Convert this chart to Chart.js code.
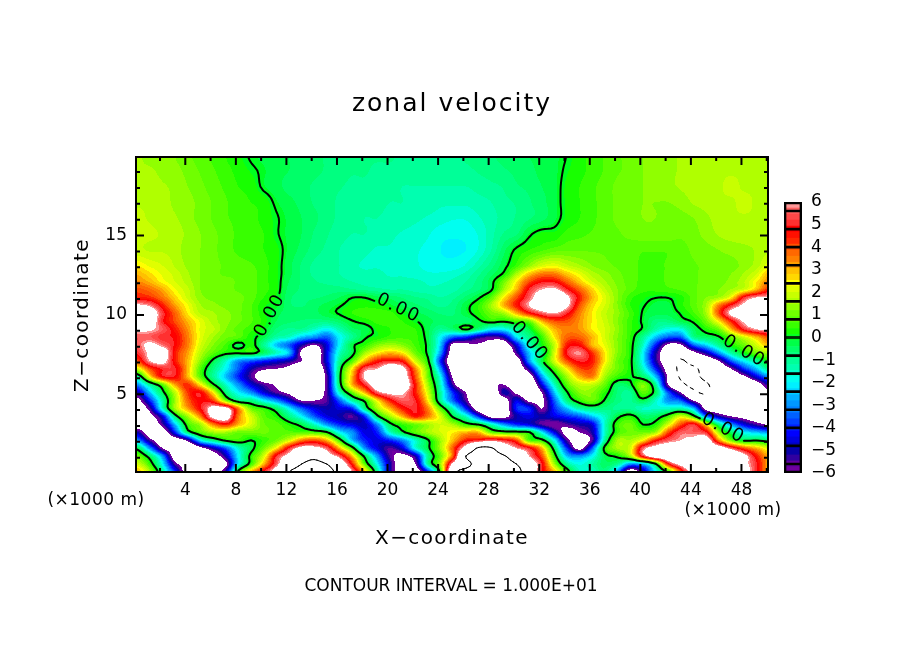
<!DOCTYPE html>
<html>
<head>
<meta charset="utf-8">
<title>zonal velocity</title>
<script src="https://cdn.jsdelivr.net/npm/chart.js@4"></script>
<style>
body { margin: 0; background: #fff; }
#plot { position: absolute; left: 0; top: 0; }
#bar { position: absolute; left: 770px; top: 190px; }
</style>
</head>
<body>
<canvas id="plot" width="904" height="654"></canvas>
<canvas id="bar" width="100" height="300"></canvas>
<script>
// grid columns and levels, in thousands of metres
const xCols = [.2,1.2,2.2,3.2,4.2,5.2,6.2,7.2,8.2,9.2,10.2,11.2,12.2,13.2,14.2,15.2,16.2,17.2,18.2,19.2,20.2,21.2,22.2,23.2,24.2,25.2,26.2,27.2,28.2,29.2,30.2,31.2,32.2,33.2,34.2,35.2,36.2,37.2,38.2,39.2,40.2,41.2,42.2,43.2,44.2,45.2,46.2,47.2,48.2,49.2,50.2];
const zLevels = [.1,.6,1.1,1.6,2.1,2.6,3.1,3.6,4.1,4.6,5.1,5.6,6.1,6.6,7.1,7.6,8.1,8.6,9.1,9.6,10.1,10.6,11.1,11.6,12.1,12.6,13.1,14.1,15.1,16.1,17.1,18.1,19.1,19.95];

// zonal velocity, one row per z level, bottom row first
const uRows = [
[3,1.5,-1,-4,-7,-8,-7,-5,.3,3, 5,7,10,11,11,11,9,6,3,-1, -5,-7,-7,-4,.5,9,11,11,11,11, 11,8,5,3,.5,-1.5,-1.5,-.8,-3,-7, -5,-2,.3,4,7,8,8,8,7,5, 3],
[2,.5,-2,-5.5,-7,-8,-8,-6.3,-2,.5, 3,5.5,8,10,11,10,7.5,4.5,.8,-2, -5,-7,-6,-1,1.5,6.5,9,11,11,11, 10,7.5,5,1.5,-1,-1.8,-1.2,-.5,-1,-3, -2.5,-.2,4.5,6.5,7.5,8,8,8,6.5,5, 3],
[1,-.5,-3,-7,-8,-8,-7,-5,-2,.3, 2,5,6.5,8,9,7,5.5,3,-.3,-3, -5.5,-6.5,-5,-1,1,4,10,11,11,10.3, 8,6,4,.5,-2.5,-3,-2,-.3,.2,1.5, 5,7,7.5,8,8,8,8,8,6.5,4.5, 3],
[-.3,-3,-6,-7,-8,-6.5,-5,-3.5,-1.5,-.3, 1,2.5,5,6.5,6.5,5.5,3,.5,-3,-4.5, -5.5,-4.5,-1.8,-.2,1.5,4,7,10.4,10.3,7.5, 6,5,3,-.5,-4,-6.5,-3.5,.3,1.5,2, 5.5,6.5,7,7,7.5,7.5,7,5.5,4,3, 2],
[-3,-5.5,-7,-7,-5.5,-2,-.8,.2,.5,0, .5,1,2,3.5,4,3,.5,-2.5,-4,-4.5, -4,-3,-1.5,-.1,1.5,3,4.5,5,5.5,5, 4,.8,.3,-2,-5.5,-7,-5.5,-1,1.5,1.5, 2.5,4.5,5.5,6,6.5,7,3.5,1,-.2,-.1, -.5],
[-5,-7,-7,-4,-.6,.8,1.5,1.5,1,1, 1,.8,.8,.7,.6,.1,-2,-3,-4.5,-4, -1.5,-.2,.8,1.5,2,2.5,3,3,1,.5, .4,.1,-2,-4.5,-6.5,-6,-5,-1.5,.5,1, 1,1.5,4,5.5,5.5,5,1.5,-.5,-2,-2.5, -3],
[-7,-7,-5.5,-2.5,.5,1.5,3.5,4.5,3,2, 1,.8,.3,-.3,-1.5,-3,-4,-4.5,-4.8,-3, -.3,.5,1,1.5,2,1.5,.4,-.1,-1.5,-3, -4,-4.5,-5.5,-6,-5.5,-5,-4.5,-1.5,.5,1, 0,.3,2,4,5,2.5,-.8,-3,-4.5,-5.5, -6.2],
[-7,-6.5,-4.5,-.5,1.5,3.5,6.5,7,3.5,2, .8,.3,-.8,-2,-3.5,-4.5,-5,-5.5,-4,-.3, 1.5,3,4.5,3.5,2,-.2,-1.5,-4,-6.5,-6.5, -5,-4.5,-5,-4.5,-4,-3.5,-2.5,-1.5,-.2,.3, -.5,-.4,.5,2,.5,-3,-5,-6,-6.5,-7, -7],
[-7,-5.5,-1.5,1.5,3.2,4.8,6.5,6.5,3.5,1, .4,-.5,-2,-3.5,-4.5,-5,-4.5,-4,-.8,1.5, 3,4.5,5,3.5,.8,-1.5,-4,-7,-8,-7.5, -4,-4,-6,-4,-2.5,-1.2,-.7,-.8,-1,-1, -1.5,-1.5,-1.5,-1.3,-2.5,-6.5,-7,-7.5,-8,-8, -8],
[-6.5,-4,-1.2,1.5,3.8,4.8,4.2,1.3,-.6,-.8, -2,-3,-4.5,-6,-6,-5.5,-3.5,-1.2,.2,2.5, 4.5,5.5,5,2.5,-1,-3.5,-5.5,-8,-8,-7, -4.5,-6.3,-6.3,-3.5,-.8,.4,1,-.1,-.8,-1, -.3,-1.5,-3,-3.5,-6,-7.5,-8,-8,-8,-8, -8],
[-5,-2.5,-.3,1.8,4.2,4.8,2.5,-.6,-2,-3, -4.5,-5.5,-6.3,-7.5,-7,-5.5,-1.5,.9,3,5.5, 6.3,6.2,4.5,2,-1.2,-4,-6,-8,-8,-5, -6.3,-7.5,-6,-2.5,-.1,1.2,1.2,.3,-.7,-1, .8,-.4,-3.5,-6,-9,-10.5,-8,-8,-8,-8, -6.3],
[-3,-1,.8,3.2,4.3,2.5,.2,-1.5,-3,-4.5, -5.5,-6.2,-7.5,-8,-8,-5.5,-.5,3,5,7, 7.5,7.5,4.5,1.5,-1.5,-5.5,-7.5,-8,-6.5,-6, -7.5,-8,-4.5,-1.5,.8,1.8,1.8,.9,-.5,-.2, 1.2,-1,-6,-9,-11,-10.5,-8,-8,-8,-7, -5],
[-1,2.5,4.7,4.8,3,.8,-1,-2.5,-4,-5.5, -7,-7,-7.5,-8,-8,-5.5,-.3,3,6.2,7, 7.5,7,4,1,-2,-6.3,-8,-8,-6.3,-7, -8,-7,-3,-.4,1.5,3,3.5,1.5,.5,.1, -.5,-2.5,-6.3,-10.5,-11,-9,-8,-7.5,-6.3,-4.5, -3],
[2,4,5,5,3,.7,-.8,-2,-3.5,-5, -5.8,-6,-6.5,-8,-8,-5,-.5,2.5,5.5,6, 7.2,6.5,3.5,.8,-3,-7,-8,-8,-7.5,-8, -7.5,-5,-1.5,.7,2.5,4,4,2,1,.2, -1.5,-4,-7,-11,-11,-8,-7.5,-6,-4,-2.5, -.8],
[4,6,6.5,4.5,3,1.3,-.2,-1.5,-3,-3.5, -4,-4.5,-5,-6,-7,-4.5,-1,.7,3,4.5, 5,4.5,2,.2,-4,-7.5,-8,-8,-8,-7.5, -7,-3,-.3,2,4,5,4.5,2.5,1,.2, -2,-5,-7.5,-10.5,-8,-7.5,-6,-3.5,-2,-1, .3],
[5,6.3,7,4.5,3.2,1.7,.8,.2,.1,.2, -.5,-1.5,-2.5,-6.3,-7.5,-4.5,-1.5,-.3,1.5,2.5, 3,2.5,1,-.2,-3,-7,-6.5,-7.5,-8,-8, -5.5,-2.5,-.8,2,5,5.8,4.3,2.5,1.2,.3, -2,-5,-7.3,-8,-6.5,-5,-3,-1.2,.1,1, 1.5],
[5.5,6.3,5.7,4.8,3.5,2,1.2,.6,-.3,.3, -1,-2.5,-3.5,-5,-6,-4.5,-2,-.2,.4,1.2, 1.5,1.2,.6,-.2,-2.5,-6.5,-6.3,-6.2,-6.5,-7, -4.5,-1.5,.1,1.8,4.5,4.7,3,2.2,1.2,.3, -1.5,-4,-6.3,-6.2,-3.5,-2.3,-1,.2,1,2, 3],
[5.5,5.5,5,4.8,3.5,2.2,1.5,1,.8,.2, -.3,-1.2,-1.5,-2.5,-3,-3.5,-2,-1,-.1,.2, .5,.6,.5,-.3,-2,-3.5,-4,-5,-5.5,-5, -2.2,-.9,.5,2.5,3.8,3.8,3,2,1.2,.4, -1,-2.5,-3.5,-3.5,-1,-.5,-.1,1,2,3, 4],
[6.3,6.2,5.5,4.5,3.3,2.2,1.8,1.2,.8,.5, .05,-.7,-1,-1,-1.5,-2,-1.3,-.5,-.3,.2, .4,.5,.4,-.3,-1,-.6,.1,-.8,-2,-2, -1,-.2,1.5,3,3.5,3.3,2.5,2,1.3,.5, -.1,-1.2,-1.8,-1.8,-.5,.3,1,3,5,6, 6.3],
[7,7,5,4,3,2.2,1.6,1.3,1,.7, .3,-.4,-.6,-.7,-.8,-.8,-.5,-.05,.2,.5, .5,.4,.05,-.3,-.5,-.6,-.6,-.15,.3,.1, .6,1,3,4,4,3.3,2.5,1.9,1.2,.5, -.1,-.8,-.8,-.3,.1,1,2.5,4.5,6.2,7, 7],
[7,7,5.2,3.8,2.5,1.7,1.5,1.3,1,.7, .2,-.3,-.5,-.5,-.5,-.2,.05,.4,.6,.6, .5,.1,-.3,-.5,-.7,-.7,-.2,.3,1,1.5, 3,4.5,5.5,6,5,3.5,2.5,1.8,1.3,.6, -.05,-.3,-.3,.05,.6,1.5,4,6.3,7,7.5, 7.5],
[6.2,5.8,4.5,3.2,2.3,1.5,1.3,1.1,1,.7, .2,-.05,-.6,-.7,-.5,-.3,-.05,.2,.3,.2, -.05,-.4,-.6,-.8,-1,-.8,-.2,.4,1.5,3, 4.5,6,7,7.5,6.3,4,2.7,2,1.2,.4, .05,-.2,-.2,.3,.8,1.5,3.5,5,6.3,7, 7.5],
[4.5,4.3,3.6,2.7,1.9,1.3,1.1,1,1,.8, .4,.1,-.6,-.7,-.7,-.6,-.4,-.02,-.02,-.3, -.5,-.7,-.9,-1,-1.2,-1,-.6,-.1,.8,2.5, 4,5.5,7,8,6.3,4.5,3,2.1,1.2,.5, .2,.02,.02,.3,.8,1.2,1.5,2.5,5,6, 6.2],
[4,3.7,3.1,2.3,1.8,1.2,1,1,.9,.8, .5,.2,-.5,-.7,-.8,-.8,-.8,-.9,-1,-1.1, -1.2,-1.2,-1.3,-1.4,-1.4,-1.3,-1,-.7,-.1,1.5, 3,5,6,6.3,5,3.8,2.7,1.8,1.2,.8, .5,.5,.6,.7,.9,1,1.2,1.5,2,3, 4.5],
[3.4,3,2.4,2,1.6,1.2,1,1,.9,.8, .5,.2,-.4,-.7,-.9,-1,-1.1,-1.2,-1.3,-1.4, -1.4,-1.4,-1.4,-1.5,-1.5,-1.4,-1.2,-.8,-.2,1, 2.5,4,4.8,4.8,3.8,2.8,2,1.5,1.1,.8, .6,.6,.7,.8,.9,1,1.1,1.3,1.7,2.5, 3.5],
[3,2.6,2.2,1.9,1.5,1.2,1,.9,.9,.8, .5,.2,-.3,-.7,-1,-1.1,-1.2,-1.3,-1.4,-1.4, -1.5,-1.5,-1.6,-1.7,-1.7,-1.6,-1.4,-1,-.5,.1, 1.5,2.8,3.5,3.5,2.8,2.2,1.6,1.3,1,.8, .6,.6,.7,.8,.9,1,1.1,1.2,1.5,2, 3],
[2.5,2.2,2,1.7,1.4,1.2,1,.9,.8,.7, .5,.2,-.3,-.7,-1,-1.1,-1.2,-1.4,-1.5,-1.5, -1.6,-1.6,-1.7,-1.8,-1.9,-1.9,-1.7,-1.3,-.8,-.2, .5,1.3,2,2.2,1.8,1.5,1.2,1,.9,.8, .6,.6,.7,.8,.9,1,1.1,1.1,1.3,1.6, 2.2],
[1.8,1.7,1.7,1.6,1.3,1.2,1,.8,.6,.5, .4,.2,-.2,-.5,-.8,-1,-1.2,-1.3,-1.4,-1.5, -1.5,-1.6,-1.7,-1.8,-2,-2.05,-2,-1.7,-1.2,-.5, .1,.4,.6,.8,.9,.9,.9,.9,.9,.8, .7,.7,.7,.8,1,1.1,1.2,1.3,1.4,1.5, 1.7],
[1.9,1.8,1.7,1.6,1.4,1.2,1,.8,.6,.5, .4,.05,-.2,-.4,-.7,-.9,-1.1,-1.2,-1.2,-1.3, -1.4,-1.5,-1.6,-1.7,-1.9,-1.95,-1.9,-1.7,-1.3,-.9, -.7,-.1,.2,.2,.5,.6,.7,.8,.9,1, 1.1,1.1,1.1,1,1.1,1.3,1.5,1.6,1.6,1.6, 1.7],
[1.8,1.7,1.6,1.5,1.3,1.1,.9,.7,.6,.5, .3,.05,-.2,-.4,-.6,-.8,-1,-1.1,-1.2,-1.2, -1.3,-1.3,-1.4,-1.5,-1.6,-1.7,-1.7,-1.5,-1.3,-1.1, -.9,-.7,-.5,-.2,.2,.4,.6,.8,1,1.1, 1.2,1.2,1.1,1.1,1.2,1.4,1.6,1.7,1.7,1.7, 1.7],
[1.7,1.7,1.6,1.4,1.3,1.1,.9,.7,.5,.4, .3,-.1,-.3,-.5,-.7,-.8,-1,-1.1,-1.1,-1.1, -1.2,-1.2,-1.3,-1.3,-1.4,-1.4,-1.4,-1.3,-1.2,-1, -.9,-.7,-.5,-.2,.2,.4,.6,.8,1,1.1, 1.2,1.2,1.2,1.3,1.5,1.6,1.7,1.7,1.8,1.7, 1.7],
[1.6,1.6,1.5,1.4,1.2,1,.8,.6,.4,.3, -.1,-.3,-.5,-.6,-.7,-.8,-.9,-1,-1,-1.1, -1.1,-1.2,-1.2,-1.2,-1.2,-1.2,-1.2,-1.1,-1,-.9, -.7,-.6,-.4,-.2,.2,.4,.6,.8,1,1.1, 1.2,1.3,1.4,1.5,1.6,1.7,1.7,1.8,1.7,1.7, 1.7],
[1.5,1.5,1.4,1.3,1.1,.9,.7,.5,.3,.1, -.1,-.3,-.4,-.5,-.6,-.7,-.8,-.9,-.9,-1, -1,-1,-1.1,-1.1,-1.1,-1,-1,-.9,-.8,-.7, -.6,-.5,-.3,-.2,.1,.3,.5,.7,.9,1, 1.2,1.3,1.4,1.5,1.6,1.7,1.7,1.7,1.7,1.7, 1.6],
[1.5,1.4,1.4,1.2,1,.8,.6,.4,.2,-.05, -.2,-.3,-.4,-.5,-.6,-.7,-.8,-.8,-.9,-.9, -.9,-1,-1,-1,-1,-1,-.9,-.8,-.7,-.6, -.5,-.4,-.3,-.2,.02,.3,.5,.7,.9,1, 1.2,1.3,1.4,1.5,1.6,1.7,1.7,1.7,1.7,1.7, 1.6]
];

// axis ticks
const xTicks = [4,8,12,16,20,24,28,32,36,40,44,48];
const xMinor = [2,6,10,14,18,22,26,30,34,38,42,46,50];
const zTicks = [5,10,15];
const zMinor = [1,2,3,4,6,7,8,9,11,12,13,14,16,17,18,19];
const barTicks = [-6,-5,-4,-3,-2,-1,0,1,2,3,4,5,6];

// 45 colour bands from -6 to 6, white outside
const palette = ["#7000a0","#6000a0","#3000a0","#0800a8","#0000c0","#0000e0","#0000ff","#0020ff","#0040ff","#0060ff","#0080ff","#0098ff","#00b0ff","#00d0ff","#00f0ff","#00fff0","#00ffd0","#00ffb0","#00ff98","#00ff80","#00ff68","#00ff48","#00ff20","#18ff00","#38ff00","#58ff00","#70ff00","#90ff00","#b0ff00","#c8ff00","#e0ff00","#ffff00","#ffd800","#ffc000","#ffa000","#ff8000","#ff6800","#ff5000","#ff2800","#ff1000","#ff0000","#ff3030","#ff4848","#ff6060","#ff9898"];
const bandStep = 12 / palette.length;
const barEdges = [-6,-5.6,-4.8,-4,-3.2,-2.4,-1.6,-.8,0,.8,1.6,2.4,3.2,4,4.8,5.6,6];

// the 0.00 labels on the contour, angle in degrees
const zeroLabels = [
   { x: 10.7, z: 9.97, angle: -62 },
   { x: 20.84, z: 10.41, angle: 26 },
   { x: 31.23, z: 8.34, angle: 49 },
   { x: 48.2, z: 7.7, angle: 31 },
   { x: 46.55, z: 2.85, angle: 28 }
];

function catmull(a, b, c, d, t) {
   return .5 * (2 * b + (c - a) * t + (2 * a - 5 * b + 4 * c - d) * t * t + (3 * b - a - 3 * c + d) * t * t * t);
}

function cellAt(j, i) {
   const r = uRows[Math.max(0, Math.min(uRows.length - 1, j))];
   return r[Math.max(0, Math.min(r.length - 1, i))];
}

// smooth read of the table at a fractional column/row
function sampleIdx(ci, rj) {
   const i = Math.floor(ci), j = Math.floor(rj), tx = ci - i, tz = rj - j;
   const rows = [];
   for (let n = -1; n <= 2; n++) {
      rows.push(catmull(cellAt(j + n, i - 1), cellAt(j + n, i), cellAt(j + n, i + 1), cellAt(j + n, i + 2), tx));
   }
   return catmull(rows[0], rows[1], rows[2], rows[3], tz);
}

function rowOf(z) {
   let j = 0;
   while (j < zLevels.length - 2 && z > zLevels[j + 1]) j++;
   return j + (z - zLevels[j]) / (zLevels[j + 1] - zLevels[j]);
}

function zOf(r) {
   const j = Math.min(Math.floor(r), zLevels.length - 2);
   return zLevels[j] + (zLevels[j + 1] - zLevels[j]) * (r - j);
}

function hexToRgb(h) {
   return [parseInt(h.slice(1, 3), 16), parseInt(h.slice(3, 5), 16), parseInt(h.slice(5, 7), 16)];
}
const paletteRgb = palette.map(hexToRgb);

function paintField(chart) {
   const area = chart.chartArea, sx = chart.scales.x, sy = chart.scales.y;
   const w = Math.round(area.right - area.left), h = Math.round(area.bottom - area.top);
   const off = document.createElement('canvas');
   off.width = w; off.height = h;
   const octx = off.getContext('2d');
   const img = octx.createImageData(w, h);
   for (let py = 0; py < h; py++) {
      const rj = rowOf(sy.getValueForPixel(area.top + py + .5));
      for (let px = 0; px < w; px++) {
         const v = sampleIdx(sx.getValueForPixel(area.left + px + .5) - xCols[0], rj);
         let c = [255, 255, 255];
         if (v >= -6 && v <= 6) c = paletteRgb[Math.min(palette.length - 1, Math.floor((v + 6) / bandStep))];
         const k = (py * w + px) * 4;
         img.data[k] = c[0]; img.data[k + 1] = c[1]; img.data[k + 2] = c[2]; img.data[k + 3] = 255;
      }
   }
   octx.putImageData(img, 0, 0);
   chart.ctx.drawImage(off, area.left, area.top, w, h);
}

function inLabelGap(px, py, sx, sy) {
   return zeroLabels.some(l => {
      const a = l.angle * Math.PI / 180;
      const dx = px - sx.getPixelForValue(l.x), dy = py - sy.getPixelForValue(l.z);
      const along = dx * Math.cos(a) + dy * Math.sin(a);
      const across = -dx * Math.sin(a) + dy * Math.cos(a);
      return Math.abs(along) < 24 && Math.abs(across) < 12;
   });
}

// marching squares on a finer read of the table
const SUB = 4;
function drawContour(chart, level, width, dashed, gaps) {
   const ctx = chart.ctx, sx = chart.scales.x, sy = chart.scales.y;
   const nx = (xCols.length - 1) * SUB, nz = (zLevels.length - 1) * SUB;
   const vals = [];
   for (let j = 0; j <= nz; j++) {
      const row = [];
      for (let i = 0; i <= nx; i++) row.push(sampleIdx(i / SUB, j / SUB));
      vals.push(row);
   }
   const toPix = (ci, rj) => [sx.getPixelForValue(xCols[0] + ci), sy.getPixelForValue(zOf(rj))];
   ctx.save();
   ctx.beginPath();
   ctx.rect(chart.chartArea.left, chart.chartArea.top, chart.chartArea.width, chart.chartArea.height);
   ctx.clip();
   ctx.strokeStyle = '#000';
   ctx.lineWidth = width;
   ctx.lineCap = 'round';
   ctx.beginPath();
   for (let j = 0; j < nz; j++) {
      for (let i = 0; i < nx; i++) {
         const a = vals[j][i], b = vals[j][i + 1], c = vals[j + 1][i + 1], d = vals[j + 1][i];
         const pts = [];
         const i0 = i / SUB, i1 = (i + 1) / SUB, j0 = j / SUB, j1 = (j + 1) / SUB;
         if ((a < level) !== (b < level)) pts.push(toPix(i0 + (i1 - i0) * (level - a) / (b - a), j0));
         if ((b < level) !== (c < level)) pts.push(toPix(i1, j0 + (j1 - j0) * (level - b) / (c - b)));
         if ((c < level) !== (d < level)) pts.push(toPix(i1 + (i0 - i1) * (level - c) / (d - c), j1));
         if ((d < level) !== (a < level)) pts.push(toPix(i0, j1 + (j0 - j1) * (level - d) / (a - d)));
         for (let k = 0; k + 1 < pts.length; k += 2) {
            const p = pts[k], q = pts[k + 1];
            if (gaps && (inLabelGap(p[0], p[1], sx, sy) || inLabelGap(q[0], q[1], sx, sy))) continue;
            // segments are tiny, so the dash has to come from position
            if (dashed && Math.floor((p[0] + p[1]) / 6) % 2) continue;
            ctx.moveTo(p[0], p[1]);
            ctx.lineTo(q[0], q[1]);
         }
      }
   }
   ctx.stroke();
   ctx.restore();
}

function drawText(ctx, text, x, y, size, spacing, align, angle) {
   ctx.save();
   ctx.translate(x, y);
   if (angle) ctx.rotate(angle * Math.PI / 180);
   ctx.font = size + 'px "DejaVu Sans"';
   ctx.letterSpacing = spacing + 'px';
   ctx.fillStyle = '#000';
   ctx.textAlign = align;
   ctx.textBaseline = 'middle';
   ctx.fillText(text, 0, 0);
   ctx.restore();
}

const fieldPlugin = {
   id: 'field',
   beforeDatasetsDraw(chart) {
      paintField(chart);
   },
   afterDatasetsDraw(chart) {
      const ctx = chart.ctx, area = chart.chartArea, sx = chart.scales.x, sy = chart.scales.y;
      drawContour(chart, 0, 2, false, true);
      drawContour(chart, 10, 1, false, false);
      drawContour(chart, -10, 1, true, false);

      zeroLabels.forEach(l => {
         drawText(ctx, '0.00', sx.getPixelForValue(l.x), sy.getPixelForValue(l.z), 18, 1.5, 'center', l.angle);
      });

      // inward ticks and frame
      ctx.save();
      ctx.strokeStyle = '#000';
      ctx.lineWidth = 2;
      const tickX = (list, len) => list.forEach(v => {
         const p = sx.getPixelForValue(v);
         ctx.beginPath();
         ctx.moveTo(p, area.bottom); ctx.lineTo(p, area.bottom - len);
         ctx.moveTo(p, area.top); ctx.lineTo(p, area.top + len);
         ctx.stroke();
      });
      const tickZ = (list, len) => list.forEach(v => {
         const p = sy.getPixelForValue(v);
         ctx.beginPath();
         ctx.moveTo(area.left, p); ctx.lineTo(area.left + len, p);
         ctx.moveTo(area.right, p); ctx.lineTo(area.right - len, p);
         ctx.stroke();
      });
      tickX(xTicks, 8); tickX(xMinor, 4);
      tickZ(zTicks, 8); tickZ(zMinor, 4);
      ctx.strokeRect(area.left, area.top, area.right - area.left, area.bottom - area.top);
      ctx.restore();

      drawText(ctx, 'zonal velocity', 452, 104, 25, 2, 'center');
      drawText(ctx, 'X\u2212coordinate', 452, 539, 20, 1.4, 'center');
      drawText(ctx, 'Z\u2212coordinate', 83, 315, 20, 1.4, 'center', -90);
      drawText(ctx, 'CONTOUR INTERVAL = 1.000E+01', 451, 587, 17, 0, 'center');
      drawText(ctx, '(\u00d71000 m)', 96, 501, 17, .5, 'center');
      drawText(ctx, '(\u00d71000 m)', 733, 511, 17, .5, 'center');
   }
};

const cells = [];
zLevels.forEach((z, j) => xCols.forEach((x, i) => cells.push({ x: x, y: z, u: uRows[j][i] })));

const plot = new Chart(document.getElementById('plot').getContext('2d'), {
   type: 'scatter',
   data: { datasets: [{ label: 'zonal velocity', data: cells, pointRadius: 0, showLine: false }] },
   options: {
      responsive: false,
      animation: false,
      layout: { padding: { top: 157, right: 136, left: 0, bottom: 0 } },
      plugins: { legend: { display: false }, tooltip: { enabled: false } },
      scales: {
         x: {
            type: 'linear', min: .1, max: 50.1,
            grid: { display: false, drawTicks: false }, border: { display: false },
            afterBuildTicks: s => { s.ticks = xTicks.map(v => ({ value: v })); },
            afterFit: s => { s.height = 182; },
            ticks: { color: '#000', padding: 8, maxRotation: 0, autoSkip: false, font: { family: 'DejaVu Sans', size: 17 } }
         },
         y: {
            type: 'linear', min: .1, max: 19.95,
            grid: { display: false, drawTicks: false }, border: { display: false },
            afterBuildTicks: s => { s.ticks = zTicks.map(v => ({ value: v })); },
            afterFit: s => { s.width = 136; },
            ticks: { color: '#000', padding: 9, font: { family: 'DejaVu Sans', size: 17 } }
         }
      }
   },
   plugins: [fieldPlugin]
});

// colour bar, outlines go first so they draw on top of the bands
const barSets = [{ data: [[-6, 6]], backgroundColor: 'rgba(0,0,0,0)', borderColor: '#000', borderWidth: 2, borderSkipped: false }];
for (let i = 0; i + 1 < barEdges.length; i++) {
   barSets.push({ data: [[barEdges[i], barEdges[i + 1]]], backgroundColor: 'rgba(0,0,0,0)', borderColor: '#000', borderWidth: 1, borderSkipped: false });
}
palette.forEach((col, i) => {
   barSets.push({ data: [[-6 + i * bandStep, -6 + (i + 1) * bandStep]], backgroundColor: col, borderWidth: 0 });
});

const bar = new Chart(document.getElementById('bar').getContext('2d'), {
   type: 'bar',
   data: { labels: ['u'], datasets: barSets },
   options: {
      responsive: false,
      animation: false,
      layout: { padding: { left: 14, right: 0, top: 12, bottom: 17 } },
      plugins: { legend: { display: false }, tooltip: { enabled: false } },
      datasets: { bar: { grouped: false, barPercentage: 1, categoryPercentage: 1 } },
      scales: {
         x: { display: false },
         y: {
            position: 'right', min: -6, max: 6,
            grid: { display: false, drawTicks: false }, border: { display: false },
            afterBuildTicks: s => { s.ticks = barTicks.map(v => ({ value: v })); },
            afterFit: s => { s.width = 68; s.paddingTop = 0; s.paddingBottom = 0; },
            ticks: {
               color: '#000', padding: 9, autoSkip: false, font: { family: 'DejaVu Sans', size: 17 },
               callback: v => String(v).replace('-', '\u2212')
            }
         }
      }
   }
});
</script>
</body>
</html>
